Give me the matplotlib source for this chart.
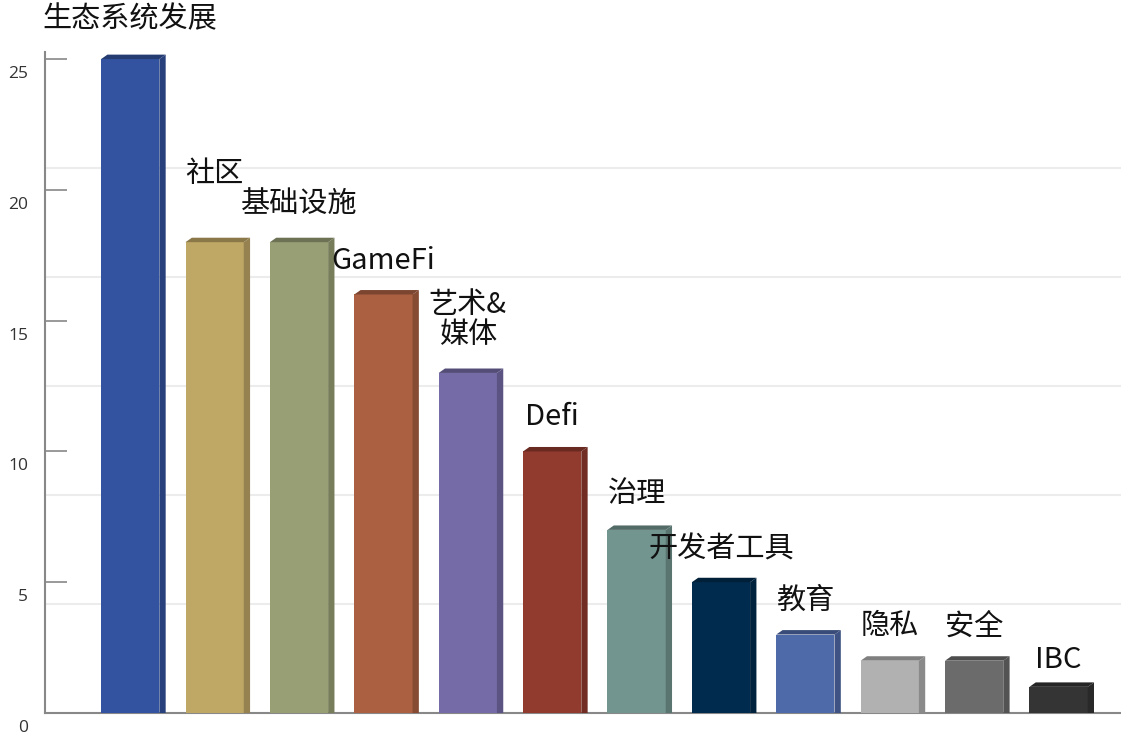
import matplotlib
matplotlib.use("Agg")
import matplotlib.pyplot as plt
import matplotlib.colors as mcolors
from matplotlib.patches import Polygon
from matplotlib.ticker import FixedLocator
import matplotlib.transforms as mtransforms
import numpy as np

# ---- data ----
categories = ["生态系统发展", "社区", "基础设施", "GameFi", "艺术&\n媒体", "Defi",
              "治理", "开发者工具", "教育", "隐私", "安全", "IBC"]
values = [25, 18, 18, 16, 13, 10, 7, 5, 3, 2, 2, 1]
colors = ["#3353A0", "#BFA766", "#989F74", "#AC6042", "#756BA6", "#913A2E",
          "#73958F", "#002B4E", "#4F6AA8", "#B1B1B1", "#6B6B6B", "#343434"]
yticks = [0, 5, 10, 15, 20, 25]

# label offsets above bar top (pixels)
label_offsets = [40, 68, 37, 33, 53, 34, 36, 33, 34, 35, 34, 27]

plt.rcParams['font.family'] = ['Noto Sans CJK SC', 'DejaVu Sans']

fig = plt.figure(figsize=(11.21, 7.35), dpi=100)
ax = fig.add_axes([45/1121, 1 - 713/735, 1 - 45/1121, (713 - 52)/735])

x = np.arange(len(values))
w = 0.69
dx = 0.075
dy = 0.17

def shade(c, f):
    r, g, b = mcolors.to_rgb(c)
    return (r * f, g * f, b * f)

ax.bar(x, values, width=w, color=colors, zorder=3, linewidth=0)
for xi, v, c in zip(x, values, colors):
    x0, x1 = xi - w / 2, xi + w / 2
    side = Polygon([(x1, 0), (x1 + dx, 0), (x1 + dx, v + dy), (x1, v)],
                   closed=True, facecolor=shade(c, 0.78), edgecolor='none', zorder=3)
    top = Polygon([(x0, v), (x0 + dx, v + dy), (x1 + dx, v + dy), (x1, v)],
                  closed=True, facecolor=shade(c, 0.72), edgecolor='none', zorder=4)
    ax.add_patch(side)
    ax.add_patch(top)

for xi, v, lab, off in zip(x, values, categories, label_offsets):
    ax.annotate(lab, xy=(xi, v), xytext=(0, off * 0.72), textcoords='offset points',
                ha='center', va='center', fontsize=21, color='#111111',
                linespacing=1.0, annotation_clip=False, zorder=5)

ax.set_xlim(-1.01, 11.74)
ax.set_ylim(0, 25.27)

ax.set_yticks(yticks)
ax.set_yticklabels([str(t) for t in yticks], fontsize=12.5, color='#333333',
                   family=['Open Sans', 'DejaVu Sans'])
ax.yaxis.set_minor_locator(FixedLocator(np.linspace(0, 25, 7)))
ax.tick_params(axis='y', which='major', direction='in', length=16, width=1.2,
               color='#888888', pad=12)
ax.tick_params(axis='y', which='minor', length=0)
ax.grid(which='minor', axis='y', color='#ececec', linewidth=1.5, zorder=0)
ax.set_xticks([])

offset = mtransforms.ScaledTranslation(0, -13 / 100, fig.dpi_scale_trans)
for lbl in ax.get_yticklabels():
    lbl.set_transform(lbl.get_transform() + offset)

for s in ['top', 'right']:
    ax.spines[s].set_visible(False)
ax.spines['left'].set_color('#888888')
ax.spines['left'].set_linewidth(1.5)
ax.spines['bottom'].set_color('#888888')
ax.spines['bottom'].set_linewidth(1.5)
ax.set_axisbelow(True)

fig.savefig("out.png", dpi=100)
